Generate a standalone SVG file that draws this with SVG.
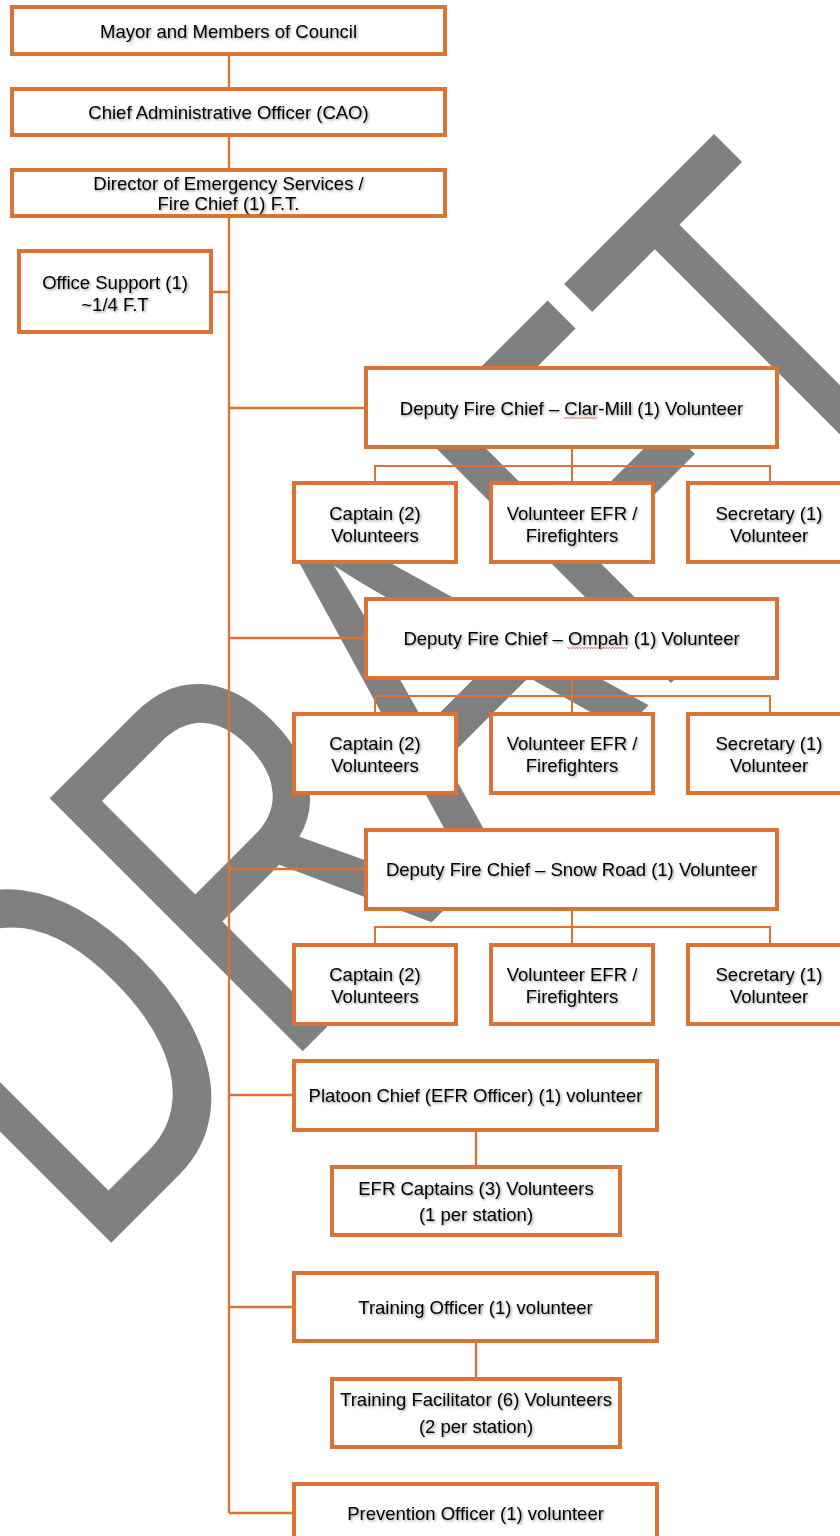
<svg xmlns="http://www.w3.org/2000/svg" width="840" height="1536" viewBox="0 0 840 1536">
<defs>
<style>
.box{fill:#fff;stroke:#DC7332;stroke-width:4}
.ln{stroke:#DC7332;stroke-width:2.3;fill:none}
.sub{stroke:#DC7332;stroke-width:2;fill:none}
.t{font-family:"Liberation Sans",Arial,sans-serif;font-size:18.5px;fill:#000;text-anchor:middle;filter:url(#sh)}
.wm{font-family:"Liberation Sans",Arial,sans-serif;font-size:520px;fill:#808080}
.spell{stroke:#E0403A;stroke-width:0.8;fill:none}
</style>
<filter id="sh" x="-5%" y="-30%" width="110%" height="160%">
<feDropShadow dx="1.3" dy="1.3" stdDeviation="0.9" flood-color="#000" flood-opacity="0.4"/>
</filter>
</defs>
<rect width="840" height="1536" fill="#fff"/>
<g id="watermark">
<text class="wm" transform="translate(89.5,1264.5) rotate(-45) scale(0.721,1)">DRAFT</text>
</g>
<g id="connectors">
<path class="ln" d="M229 56V87M229 137V168M229 218V1513"/>
<path class="ln" d="M213 292H229M229 408H364M229 638H364M229 869H364M229 1095H292M229 1307H292M229 1513H292"/>
<path class="sub" d="M572 449V466M375 481V466H770V481M572 466V481"/>
<path class="sub" d="M572 680V696M375 712V696H770V712M572 696V712"/>
<path class="sub" d="M572 911V927M375 943V927H770V943M572 927V943"/>
<path class="ln" d="M476 1132V1165M476 1343V1377"/>
</g>
<g id="mayor"><rect class="box" x="12" y="7" width="433" height="47"/><text class="t" x="228.5" y="37.5">Mayor and Members of Council</text></g>
<g id="cao"><rect class="box" x="12" y="89" width="433" height="46"/><text class="t" x="228.5" y="118.5">Chief Administrative Officer (CAO)</text></g>
<g id="director"><rect class="box" x="12" y="170" width="433" height="46"/><text class="t" x="228.5" y="189.5">Director of Emergency Services /</text><text class="t" x="228.5" y="210">Fire Chief (1) F.T.</text></g>
<g id="office"><rect class="box" x="19" y="251" width="192" height="81"/><text class="t" x="115" y="288.5">Office Support (1)</text><text class="t" x="115" y="311">~1/4 F.T</text></g>
<g id="deputy-clarmill"><rect class="box" x="366" y="368" width="411" height="79"/><text class="t" x="571.5" y="414.5">Deputy Fire Chief – Clar-Mill (1) Volunteer</text><path class="spell" d="M564 417.5l1.5 1l1.5-1l1.5 1l1.5-1l1.5 1l1.5-1l1.5 1l1.5-1l1.5 1l1.5-1l1.5 1l1.5-1l1.5 1l1.5-1l1.5 1l1.5-1l1.5 1l1.5-1l1.5 1l1.5-1l1.5 1l1.5-1"/></g>
<g id="cm-captain"><rect class="box" x="294" y="483" width="162" height="79"/><text class="t" x="375" y="519.5">Captain (2)</text><text class="t" x="375" y="541.5">Volunteers</text></g>
<g id="cm-efr"><rect class="box" x="491" y="483" width="162" height="79"/><text class="t" x="572" y="519.5">Volunteer EFR /</text><text class="t" x="572" y="541.5">Firefighters</text></g>
<g id="cm-secretary"><rect class="box" x="688" y="483" width="162" height="79"/><text class="t" x="769" y="519.5">Secretary (1)</text><text class="t" x="769" y="541.5">Volunteer</text></g>
<g id="deputy-ompah"><rect class="box" x="366" y="599" width="411" height="79"/><text class="t" x="571.5" y="644.5">Deputy Fire Chief – Ompah (1) Volunteer</text><path class="spell" d="M567.5 647.5l1.5 1l1.5-1l1.5 1l1.5-1l1.5 1l1.5-1l1.5 1l1.5-1l1.5 1l1.5-1l1.5 1l1.5-1l1.5 1l1.5-1l1.5 1l1.5-1l1.5 1l1.5-1l1.5 1l1.5-1l1.5 1l1.5-1l1.5 1l1.5-1l1.5 1l1.5-1l1.5 1l1.5-1l1.5 1l1.5-1l1.5 1l1.5-1l1.5 1l1.5-1l1.5 1l1.5-1l1.5 1l1.5-1l1.5 1l1.5-1"/></g>
<g id="om-captain"><rect class="box" x="294" y="714" width="162" height="79"/><text class="t" x="375" y="749.5">Captain (2)</text><text class="t" x="375" y="771.5">Volunteers</text></g>
<g id="om-efr"><rect class="box" x="491" y="714" width="162" height="79"/><text class="t" x="572" y="749.5">Volunteer EFR /</text><text class="t" x="572" y="771.5">Firefighters</text></g>
<g id="om-secretary"><rect class="box" x="688" y="714" width="162" height="79"/><text class="t" x="769" y="749.5">Secretary (1)</text><text class="t" x="769" y="771.5">Volunteer</text></g>
<g id="deputy-snowroad"><rect class="box" x="366" y="830" width="411" height="79"/><text class="t" x="571.5" y="875.5">Deputy Fire Chief – Snow Road (1) Volunteer</text></g>
<g id="sr-captain"><rect class="box" x="294" y="945" width="162" height="79"/><text class="t" x="375" y="980.5">Captain (2)</text><text class="t" x="375" y="1002.5">Volunteers</text></g>
<g id="sr-efr"><rect class="box" x="491" y="945" width="162" height="79"/><text class="t" x="572" y="980.5">Volunteer EFR /</text><text class="t" x="572" y="1002.5">Firefighters</text></g>
<g id="sr-secretary"><rect class="box" x="688" y="945" width="162" height="79"/><text class="t" x="769" y="980.5">Secretary (1)</text><text class="t" x="769" y="1002.5">Volunteer</text></g>
<g id="platoon"><rect class="box" x="294" y="1061" width="363" height="69"/><text class="t" x="475.5" y="1101.5">Platoon Chief (EFR Officer) (1) volunteer</text></g>
<g id="efr-captains"><rect class="box" x="332" y="1167" width="288" height="68"/><text class="t" x="476" y="1194.5">EFR Captains (3) Volunteers</text><text class="t" x="476" y="1220.5">(1 per station)</text></g>
<g id="training-officer"><rect class="box" x="294" y="1273" width="363" height="68"/><text class="t" x="475.5" y="1313.5">Training Officer (1) volunteer</text></g>
<g id="training-facilitator"><rect class="box" x="332" y="1379" width="288" height="68"/><text class="t" x="476" y="1405.5">Training Facilitator (6) Volunteers</text><text class="t" x="476" y="1432.5">(2 per station)</text></g>
<g id="prevention"><rect class="box" x="294" y="1484" width="363" height="69"/><text class="t" x="475.5" y="1519.5">Prevention Officer (1) volunteer</text></g>
</svg>
